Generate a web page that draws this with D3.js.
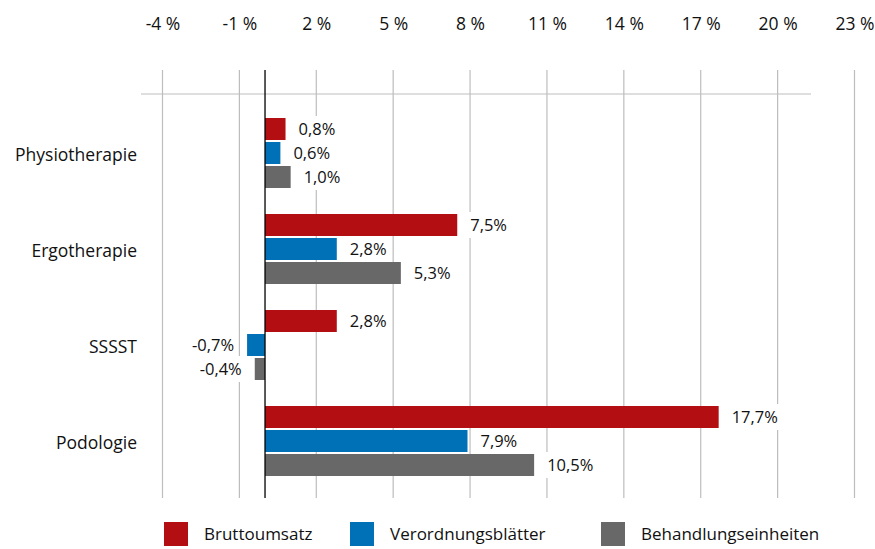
<!DOCTYPE html>
<html>
<head>
<meta charset="utf-8">
<script src="https://cdn.jsdelivr.net/npm/d3@7"></script>
<style>
  body { margin: 0; background: #fff; }
  text { font-family: 'Open Sans', sans-serif; fill: #111; }
</style>
</head>
<body>
<div id="chart"></div>
<script>
const categories = ['Physiotherapie', 'Ergotherapie', 'SSSST', 'Podologie']
const series = ['Bruttoumsatz', 'Verordnungsblätter', 'Behandlungseinheiten']
const bruttoumsatz = [0.8, 7.5, 2.8, 17.7]
const verordnungsblaetter = [0.6, 2.8, -0.7, 7.9]
const behandlungseinheiten = [1.0, 5.3, -0.4, 10.5]
const tickValues = [-4, -1, 2, 5, 8, 11, 14, 17, 20, 23]

const colors = ['#b30e12', '#0070b7', '#686868']
const width = 875
const height = 549

const svg = d3
  .select('#chart')
  .append('svg')
  .attr('width', width)
  .attr('height', height)

const xPositionScale = d3.scaleLinear().domain([-4, 23]).range([162.5, 854.5])

const yPositionScale = d3
  .scaleBand()
  .domain(categories)
  .range([118, 476])
  .paddingInner(26 / 96)
  .paddingOuter(0)

const ySeriesScale = d3
  .scaleBand()
  .domain(series)
  .range([0, yPositionScale.bandwidth()])
  .paddingInner(2 / 24)

const colorScale = d3.scaleOrdinal().domain(series).range(colors)

// flatten into one row per bar
const values = [bruttoumsatz, verordnungsblaetter, behandlungseinheiten]
const datapoints = []
categories.forEach((c, i) => {
  series.forEach((s, j) => {
    datapoints.push({ category: c, series: s, value: values[j][i] })
  })
})

// vertical gridlines
svg
  .selectAll('.grid')
  .data(tickValues)
  .enter()
  .append('line')
  .attr('class', 'grid')
  .attr('x1', d => xPositionScale(d))
  .attr('x2', d => xPositionScale(d))
  .attr('y1', 70)
  .attr('y2', 498)
  .attr('stroke', '#bdbdbd')
  .attr('stroke-width', 1.2)

svg
  .append('line')
  .attr('x1', 141)
  .attr('x2', 811)
  .attr('y1', 94)
  .attr('y2', 94)
  .attr('stroke', '#bdbdbd')
  .attr('stroke-width', 1.2)

// tick labels on top
const xAxis = d3
  .axisTop(xPositionScale)
  .tickValues(tickValues)
  .tickSize(0)
  .tickPadding(0)
  .tickFormat(d => d + ' %')

svg
  .append('g')
  .attr('class', 'axis x-axis')
  .attr('transform', 'translate(0,30)')
  .call(xAxis)
  .call(g => g.select('.domain').remove())
  .selectAll('text')
  .attr('font-size', '17.5px')
  .attr('font-family', "'Open Sans', sans-serif")
  .attr('fill', '#111')

const barY = d => yPositionScale(d.category) + ySeriesScale(d.series)
const labelX = d => (d.value >= 0 ? xPositionScale(d.value) + 13 : xPositionScale(d.value) - 13)

// white boxes behind the value labels hide the gridlines
const bgLayer = svg.append('g').attr('class', 'label-bg')

svg
  .selectAll('.bar')
  .data(datapoints)
  .enter()
  .append('rect')
  .attr('class', 'bar')
  .attr('x', d => xPositionScale(Math.min(0, d.value)))
  .attr('width', d => Math.abs(xPositionScale(d.value) - xPositionScale(0)))
  .attr('y', barY)
  .attr('height', ySeriesScale.bandwidth())
  .attr('fill', d => colorScale(d.series))

const labels = svg
  .selectAll('.value')
  .data(datapoints)
  .enter()
  .append('text')
  .attr('class', 'value')
  .text(d => d.value.toFixed(1).replace('.', ',') + '%')
  .attr('x', labelX)
  .attr('y', d => barY(d) + ySeriesScale.bandwidth() / 2)
  .attr('dy', '0.36em')
  .attr('text-anchor', d => (d.value >= 0 ? 'start' : 'end'))
  .attr('font-size', '16.5px')

labels.each(function(d) {
  const box = this.getBBox()
  bgLayer
    .append('rect')
    .attr('x', box.x - 4)
    .attr('y', barY(d) + ySeriesScale.bandwidth() / 2 - 13)
    .attr('width', box.width + 8)
    .attr('height', 26)
    .attr('fill', '#fff')
})

// zero line
svg
  .append('line')
  .attr('x1', xPositionScale(0))
  .attr('x2', xPositionScale(0))
  .attr('y1', 70)
  .attr('y2', 498)
  .attr('stroke', '#000')
  .attr('stroke-width', 1.3)

// category labels
svg
  .selectAll('.cat')
  .data(categories)
  .enter()
  .append('text')
  .attr('class', 'cat')
  .text(d => d)
  .attr('x', 137)
  .attr('y', d => yPositionScale(d) + yPositionScale.bandwidth() / 2 + 2)
  .attr('dy', '0.35em')
  .attr('text-anchor', 'end')
  .attr('font-size', '17.5px')

// legend
const legendX = [164, 350, 601]
const legend = svg
  .selectAll('.legend')
  .data(series)
  .enter()
  .append('g')
  .attr('class', 'legend')
  .attr('transform', (d, i) => 'translate(' + legendX[i] + ',522)')

legend
  .append('rect')
  .attr('width', 24)
  .attr('height', 24)
  .attr('fill', d => colorScale(d))

legend
  .append('text')
  .text(d => d)
  .attr('x', 40)
  .attr('y', 12)
  .attr('dy', '0.35em')
  .attr('font-size', '17px')
</script>
</body>
</html>
